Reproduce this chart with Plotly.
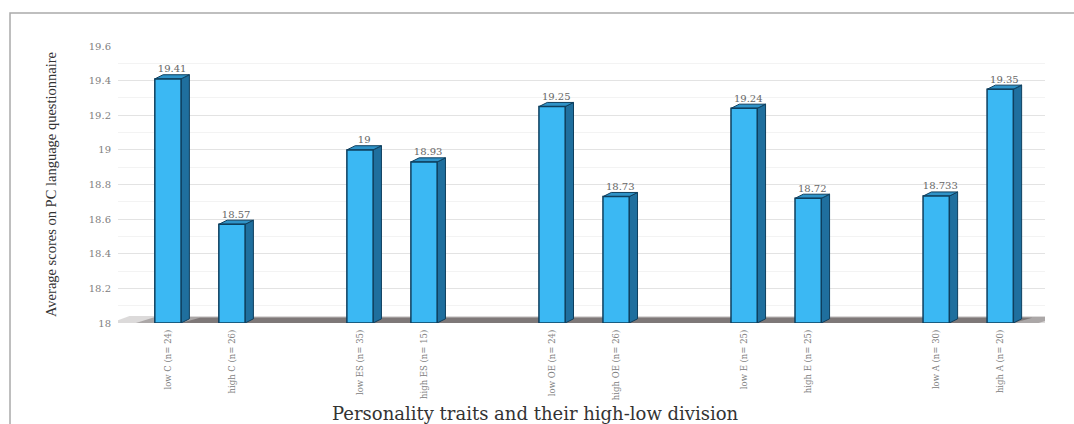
import plotly.graph_objects as go

labels = ["low C (n= 24)", "high C (n= 26)", "low ES (n= 35)", "high ES (n= 15)",
          "low OE (n= 24)", "high OE (n= 26)", "low E (n= 25)", "high E (n= 25)",
          "low A (n= 30)", "high A (n= 20)"]
values = [19.41, 18.57, 19.00, 18.93, 19.25, 18.73, 19.24, 18.72, 18.733, 19.35]
value_text = ["19.41", "18.57", "19", "18.93", "19.25", "18.73", "19.24", "18.72", "18.733", "19.35"]

# positions: groups of two bars separated by an empty slot
xpos = [(i // 2) * 3 + (i % 2) for i in range(len(values))]

BW = 0.41      # front face width
DX = 0.13      # depth (x)
DY = 0.024     # depth (y)
front = "#3bb8f3"
side = "#1f6f9e"
top = "#2f93c8"
edge = "#0e3f5e"
YMIN = 18.0

fig = go.Figure()

# floor shadow (layered for a soft look)
for a, x0, x1, h in [(0.18, -0.9, 13.9, 0.04), (0.3, -0.5, 13.6, 0.035), (0.4, 0.2, 13.2, 0.03)]:
    fig.add_trace(go.Scatter(
        x=[x0, x1, x1 + 0.3, x0 + 0.3, x0],
        y=[YMIN, YMIN, YMIN + h, YMIN + h, YMIN],
        fill="toself", fillcolor=f"rgba(60,50,50,{a})", line=dict(width=0),
        mode="lines", hoverinfo="skip", showlegend=False))

# 3D bars: front, side and top faces
for x, v in zip(xpos, values):
    r = x + BW / 2
    l = x - BW / 2
    fig.add_trace(go.Scatter(
        x=[r, r + DX, r + DX, r, r], y=[YMIN, YMIN + DY, v + DY, v, YMIN],
        fill="toself", fillcolor=side, line=dict(color=edge, width=1),
        mode="lines", hoverinfo="skip", showlegend=False))
    fig.add_trace(go.Scatter(
        x=[l, r, r + DX, l + DX, l], y=[v, v, v + DY, v + DY, v],
        fill="toself", fillcolor=top, line=dict(color=edge, width=1),
        mode="lines", hoverinfo="skip", showlegend=False))
    fig.add_trace(go.Scatter(
        x=[l, r, r, l, l], y=[YMIN, YMIN, v, v, YMIN],
        fill="toself", fillcolor=front, line=dict(color=edge, width=1.5),
        mode="lines", hoverinfo="skip", showlegend=False))

# value labels
fig.add_trace(go.Scatter(
    x=[x + DX / 2 for x in xpos], y=[v + DY for v in values], text=value_text,
    mode="text", textposition="top center",
    textfont=dict(family="DejaVu Serif", size=10, color="#666666"),
    showlegend=False, hoverinfo="skip", cliponaxis=False))

fig.update_layout(
    width=1074, height=424,
    margin=dict(l=118, r=29, t=46, b=101),
    paper_bgcolor="white", plot_bgcolor="white",
    xaxis=dict(
        range=[-0.78, 13.7], tickmode="array", tickvals=xpos, ticktext=labels,
        tickangle=-90, tickfont=dict(family="DejaVu Serif", size=8.5, color="#808080"),
        showgrid=False, zeroline=False, showline=False, ticks="",
        ticklabelstandoff=4,
    ),
    yaxis=dict(
        range=[18, 19.6], tickmode="array",
        tickvals=[18, 18.2, 18.4, 18.6, 18.8, 19, 19.2, 19.4, 19.6],
        ticktext=["18", "18.2", "18.4", "18.6", "18.8", "19", "19.2", "19.4", "19.6"],
        tickfont=dict(family="DejaVu Serif", size=10, color="#808080"),
        showgrid=True, gridcolor="#e3e3e3", gridwidth=1, zeroline=False,
        showline=False, ticks="", ticklabelstandoff=6,
        minor=dict(dtick=0.1, showgrid=True, gridcolor="#f3f3f3"),
        title=dict(text="Average scores on PC language questionnaire",
                   font=dict(family="Liberation Serif", size=14.5, color="#333333"),
                   standoff=28),
    ),
    annotations=[dict(text="Personality traits and their high-low division",
                      xref="paper", yref="paper", x=0.45, y=-0.326,
                      xanchor="center", yanchor="middle", showarrow=False,
                      font=dict(family="DejaVu Serif", size=18, color="#333333"))],
    shapes=[dict(type="rect", xref="paper", yref="paper",
                 x0=-0.1165, x1=1.2, y0=-0.5, y1=1.119,
                 line=dict(color="#aaaaaa", width=1.5), layer="below")],
)

fig.write_html("out.html")
